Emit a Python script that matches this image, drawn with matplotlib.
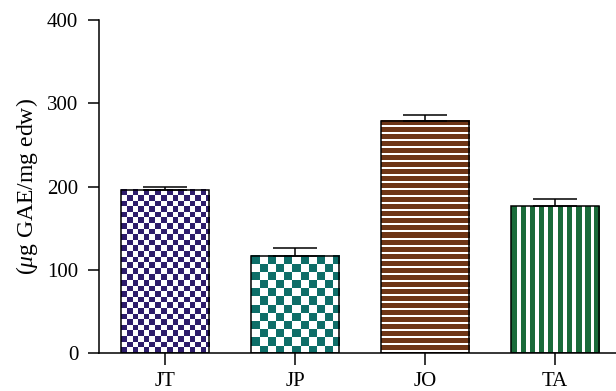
import matplotlib
matplotlib.use('Agg')
import matplotlib.pyplot as plt
import numpy as np

plt.rcParams['font.family'] = ['Liberation Serif', 'DejaVu Serif']
plt.rcParams['mathtext.fontset'] = 'custom'
plt.rcParams['mathtext.it'] = 'Liberation Serif:italic'
plt.rcParams['mathtext.rm'] = 'Liberation Serif'

# 数据
groups = ['JT', 'JP', 'JO', 'TA']
means = [196, 117, 279, 176]
errs = [4, 9, 7, 9]
colors = ['#2e1d6b', '#0e6e68', '#6e3516', '#1a6b3a']
patterns = ['check5', 'check8', 'hstripe', 'vstripe']

fig = plt.figure(figsize=(6.16, 3.91), dpi=100)
ax = fig.add_axes([0.1607, 0.0972, 0.8393, 0.8516])
ax.set_xlim(-0.51, 3.47)
ax.set_ylim(0, 400)

x = np.arange(len(groups))
bars = ax.bar(x, means, width=0.68, color='none', edgecolor='black',
              linewidth=1.1, zorder=3)
ax.errorbar(x, means, yerr=[np.zeros(len(errs)), errs], fmt='none',
            ecolor='black', elinewidth=1.1, capsize=16, capthick=1.1, zorder=4)


def make_pattern(kind, w, h, color):
    rgb = np.array(matplotlib.colors.to_rgb(color))
    yy, xx = np.mgrid[0:h, 0:w]
    if kind == 'check5':
        m = ((xx // 5.6).astype(int) + (yy // 5.6).astype(int)) % 2 == 0
    elif kind == 'check8':
        m = ((xx // 8.1).astype(int) + (yy // 8.1).astype(int)) % 2 == 0
    elif kind == 'hstripe':
        m = (yy % 7) < 4.3
    else:
        m = (xx % 9.1) < 5.4
    img = np.ones((h, w, 3))
    img[m] = rgb
    return img


fig.canvas.draw()
for b, kind, c in zip(bars, patterns, colors):
    x0, y0 = b.get_x(), 0
    x1, y1 = b.get_x() + b.get_width(), b.get_height()
    p0 = ax.transData.transform((x0, y0))
    p1 = ax.transData.transform((x1, y1))
    w = int(round(p1[0] - p0[0]))
    h = int(round(p1[1] - p0[1]))
    img = make_pattern(kind, w, h, c)
    ax.imshow(img, extent=(x0, x1, y0, y1), aspect='auto',
              interpolation='nearest', origin='upper', zorder=2)

ax.set_xlim(-0.51, 3.47)
ax.set_ylim(0, 400)

ax.spines['top'].set_visible(False)
ax.spines['right'].set_visible(False)
ax.spines['left'].set_linewidth(1.1)
ax.spines['bottom'].set_linewidth(1.1)
ax.set_yticks([0, 100, 200, 300, 400])
ax.set_xticks(x)
ax.set_xticklabels(groups)
ax.tick_params(axis='y', length=8, width=1.1, labelsize=15, pad=7)
ax.tick_params(axis='x', length=8.5, width=1.1, labelsize=15, pad=5)
ax.set_ylabel(r'($\mu$g GAE/mg edw)', fontsize=17, labelpad=5)

fig.savefig('out.png', dpi=100)
